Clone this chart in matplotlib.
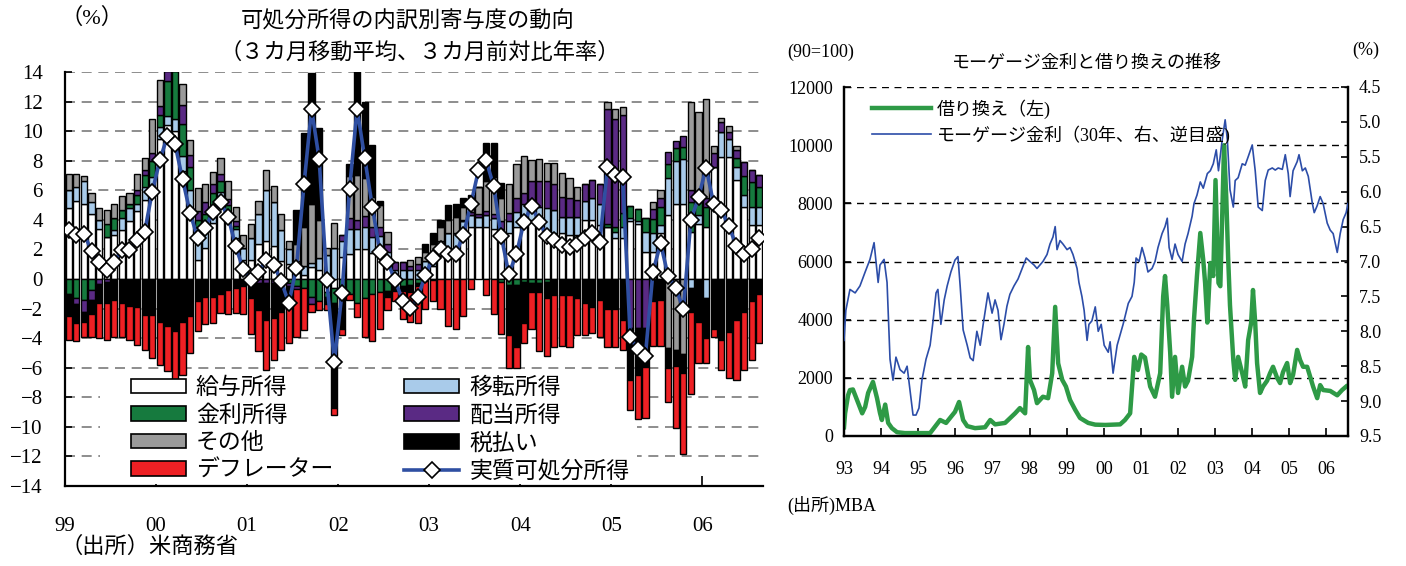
import matplotlib
matplotlib.use("Agg")
import matplotlib.pyplot as plt
import numpy as np
from matplotlib.patches import Patch, Rectangle
from matplotlib.lines import Line2D

plt.rcParams['font.family'] = ['Liberation Serif', 'Noto Sans CJK JP']

# ---- 左: 可処分所得の内訳別寄与度 (1999年1月〜2006年8月, 月次) ----
wage = [4.8, 5.3, 5.1, 4.4, 3.4, 2.85, 3.0, 3.3, 3.9, 4.6, 5.35, 6.0,
        9.5, 10.4, 10.0, 7.3, 4.5, 1.3, 2.1, 3.8, 5.1, 4.0, 2.8, 1.3,
        1.3, 2.4, 2.6, 2.2, 1.2, 1.0, 0.4, 0.3, 0.8, 0.6, -0.9, -0.6,
        1.5, 1.7, 2.0, 2.0, 1.75, 1.6, 0.9, 0.0, 0.0, 0.0, 0.0, 0.6,
        0.85, 1.7, 2.1, 1.8, 3.2, 3.5, 3.5, 3.5, 3.4, 2.8, 3.1, 3.5,
        3.9, 4.0, 3.75, 3.1, 3.1, 3.1, 3.0, 3.0, 4.0, 4.0, 3.65, 3.5,
        2.75, 2.75, 3.9, 3.7, 1.85, 1.85, 3.1, 4.3, 5.1, 5.1, 3.2, 3.7,
        3.5, 7.6, 8.25, 8.25, 6.7, 4.9, 3.65, 3.65]
transfer = [1.2, 0.95, 1.5, 0.8, 0.6, 0.0, 0.3, 0.8, 0.9, 0.5, 0.85, 0.9,
            0.8, 0.6, 0.8, 1.0, 1.5, 2.2, 1.8, 0.8, 0.8, 0.5, 0.6, 0.8,
            1.5, 2.0, 3.4, 3.0, 2.1, 1.0, 0.8, 0.6, 0.3, 0.8, 1.6, 2.1,
            1.1, 1.7, 1.35, 1.55, 1.1, 1.3, 0.9, 0.6, 0.6, 0.6, 0.6, 0.6,
            0.65, 0.9, 1.0, 1.3, 0.7, 0.8, 0.7, 0.8, 0.7, 0.6, 0.8, 1.0,
            1.2, 1.35, 1.1, 1.7, 1.6, 1.1, 1.2, 1.2, 1.25, 1.45, 1.45, 0.0,
            0.45, 0.8, 0.2, 0.25, 1.35, 1.25, 0.55, 2.5, 2.9, 3.0, -0.6, 0.6,
            -1.3, 0.0, 1.7, 1.25, 0.9, 0.8, 1.2, 1.2]
interest = [-1.0, -1.3, -1.4, -0.75, 0.0, 0.85, 0.8, 0.55, 0.3, 0.6, 0.85, 1.1,
            0.8, 2.4, 3.3, 2.2, 1.6, 0.5, 0.5, 1.2, 0.7, 0.5, 0.2, 0.0,
            0.0, 0.0, 0.0, 0.0, 0.0, -0.3, -0.5, -0.6, -1.2, -1.5, -0.3, -1.0,
            -1.0, -1.0, -1.6, -1.3, -1.0, -0.9, -0.8, -0.5, -0.5, -0.4, -0.3, -0.15,
            -0.1, 0.0, 0.0, 0.0, 0.0, 0.0, 0.0, 0.0, 0.0, -0.2, -0.4, -0.4,
            -0.2, -0.3, -0.3, -0.2, 0.0, 0.0, 0.0, 0.0, 0.0, 0.0, 0.0, 0.25,
            0.3, 0.9, 0.85, 0.8, 0.95, 0.95, 1.25, 1.0, 0.85, 0.85, 2.0, 1.0,
            1.4, 0.0, 0.0, 0.0, 0.55, 1.25, 1.7, 1.35]
dividend = [0.0, -0.4, -0.8, -0.65, -0.35, -0.2, 0.0, 0.0, 0.0, 0.3, 0.35, 0.5,
            0.6, 0.7, 0.0, 1.3, 0.8, 0.6, 0.8, 0.6, 0.5, 0.4, 0.3, 0.0,
            -0.3, -0.3, -0.3, -0.3, -0.2, -0.2, -0.2, 0.0, -0.5, 0.0, 0.0, 0.0,
            0.4, 0.7, 0.65, 0.7, 0.7, 0.6, 0.6, 0.55, 0.55, 0.3, 0.4, 0.0,
            0.0, 0.0, 0.0, 0.0, 0.1, 0.2, 0.2, 0.3, 0.3, 0.5, 0.55, 1.0,
            0.7, 1.25, 1.8, 1.8, 1.7, 1.35, 1.25, 1.15, 1.2, 1.25, 1.35, 7.75,
            7.3, 6.65, -3.33, -3.3, -3.33, 0.7, 0.55, 0.8, 0.5, 0.7, 0.8, 0.5,
            0.6, 0.9, 0.65, 0.45, 0.55, 0.95, 0.8, 0.85]
other = [1.1, 0.85, 0.35, 0.65, 0.8, 0.95, 0.95, 0.95, 0.75, 1.1, 0.8, 2.3,
         1.75, 0.0, 0.0, 1.4, 1.0, 1.55, 1.25, 0.85, 1.1, 1.2, 1.0, 0.9,
         0.95, 0.9, 1.35, 1.1, 1.1, 0.6, 1.2, 2.6, 4.0, 2.6, 0.5, 1.7,
         0.0, 2.9, 3.05, 2.55, 2.0, 1.5, 0.8, 0.0, 0.0, 0.4, 0.5, 0.6,
         0.9, 0.9, 0.9, 1.1, 0.9, 0.6, 1.8, 2.0, 2.5, 1.6, 2.0, 2.3,
         2.5, 1.45, 1.45, 1.25, 1.45, 1.6, 1.35, 0.9, 0.0, 0.0, 0.0, 0.45,
         0.7, 0.55, 0.0, 0.0, 0.0, 0.45, 0.55, -4.7, -4.8, -5.1, 6.0, 5.5,
         6.7, 0.5, 0.3, 0.4, 0.3, 0.0, 0.0, 0.0]
tax = [-1.5, -1.3, -0.7, -1.0, -1.25, -1.4, -1.45, -1.65, -1.85, -1.9, -2.45, -2.45,
       -2.9, -3.2, -3.5, -2.9, -2.5, -1.5, -1.25, -1.2, -1.0, -0.75, -0.6, -0.5,
       -1.0, -1.8, -2.5, -2.35, -2.05, -0.9, 2.26, 6.35, 8.85, 6.2, -0.5, -7.1,
       -2.4, 0.8, 7.0, 5.2, 3.5, 0.3, -0.4, -0.3, -0.3, -0.45, -0.2, 0.6,
       0.7, 0.5, 1.0, 0.9, 0.55, 0.6, 0.0, 2.6, 2.3, 1.0, -3.4, -4.2,
       -2.8, -0.6, -0.6, -1.1, -1.1, -1.1, -1.1, -1.3, -1.65, -1.87, -1.4, -2.0,
       -2.0, -2.8, -3.5, -3.2, -2.6, -1.5, -1.4, -1.35, -1.1, -1.25, -1.6, -2.9,
       -2.7, -3.4, -4.1, -3.6, -2.8, -2.2, -1.5, -1.0]
deflator = [-1.6, -1.2, -1.05, -1.5, -2.4, -2.5, -2.5, -2.25, -2.25, -2.55, -2.35, -2.9,
            -2.9, -3.05, -3.55, -3.6, -2.5, -2.0, -1.8, -1.75, -1.3, -1.6, -1.7, -1.9,
            -2.4, -2.8, -3.35, -2.85, -2.55, -2.95, -3.2, -2.85, -0.55, -0.6, -0.4, -0.5,
            -0.4, -0.45, -1.0, -2.6, -3.2, -2.5, -0.9, -0.7, -1.9, -2.05, -2.5, -1.9,
            -1.4, -2.0, -3.2, -3.4, -2.5, -0.7, 0.0, -1.1, -2.4, -3.5, -2.2, -1.4,
            -1.35, -2.5, -3.95, -3.9, -3.5, -3.45, -3.5, -2.5, -2.15, -1.8, -2.5, -2.6,
            -2.6, -2.0, -2.0, -3.0, -3.5, -3.0, -3.15, -2.25, -4.2, -5.5, -5.6, -2.8,
            -1.7, -0.5, -2.05, -3.1, -4.0, -3.95, -4.0, -3.35]
real_dpi = [3.3, 2.95, 3.06, 1.9, 1.17, 0.6, 1.17, 1.96, 1.96, 2.63, 3.2, 5.9,
            8.04, 9.66, 9.12, 6.74, 4.45, 2.75, 3.47, 4.55, 5.2, 4.2, 2.2, 0.65,
            -0.07, 0.5, 1.28, 0.95, -0.14, -1.64, 0.77, 6.4, 11.5, 8.1, -0.07, -5.6,
            -0.97, 6.06, 11.5, 8.2, 4.9, 1.85, 1.17, -0.07, -1.46, -1.98, -1.24, 0.27,
            1.44, 2.0, 1.69, 1.69, 2.97, 5.07, 7.36, 8.04, 6.28, 2.9, 0.34, 1.69,
            3.87, 4.93, 3.87, 2.9, 2.63, 2.3, 2.18, 2.34, 2.8, 3.13, 2.52, 7.55,
            7.03, 6.87, -3.94, -4.75, -5.18, 0.5, 2.41, 0.2, -0.59, -2.05, 3.99, 5.52,
            7.52, 5.07, 4.66, 3.58, 2.23, 1.69, 2.0, 2.8]
year_labels = ['99', '00', '01', '02', '03', '04', '05', '06']

# ---- 右: モーゲージ金利と借り換え指数 (1993〜2006) ----
rate_t = [1993.00, 1993.05, 1993.16, 1993.30, 1993.43, 1993.57, 1993.70, 1993.81, 1993.92, 1993.97,
          1994.08, 1994.16, 1994.24, 1994.32, 1994.40, 1994.51, 1994.62, 1994.70, 1994.78, 1994.86,
          1994.94, 1995.02, 1995.10, 1995.21, 1995.32, 1995.40, 1995.48, 1995.53, 1995.61, 1995.70,
          1995.78, 1995.88, 1995.99, 1996.07, 1996.13, 1996.21, 1996.32, 1996.40, 1996.48, 1996.58,
          1996.67, 1996.75, 1996.88, 1996.99, 1997.07, 1997.15, 1997.23, 1997.31, 1997.39, 1997.47,
          1997.58, 1997.69, 1997.80, 1997.91, 1998.01, 1998.12, 1998.20, 1998.28, 1998.36, 1998.47,
          1998.55, 1998.63, 1998.69, 1998.74, 1998.82, 1998.90, 1999.01, 1999.09, 1999.17, 1999.28,
          1999.33, 1999.41, 1999.47, 1999.55, 1999.60, 1999.68, 1999.77, 1999.85, 1999.93, 2000.01,
          2000.12, 2000.17, 2000.25, 2000.36, 2000.44, 2000.52, 2000.66, 2000.76, 2000.82, 2000.87,
          2000.95, 2001.03, 2001.11, 2001.19, 2001.30, 2001.38, 2001.46, 2001.57, 2001.65, 2001.71,
          2001.76, 2001.84, 2001.92, 2002.00, 2002.11, 2002.19, 2002.27, 2002.38, 2002.43, 2002.51,
          2002.60, 2002.68, 2002.79, 2002.87, 2002.95, 2003.03, 2003.09, 2003.19, 2003.27, 2003.33,
          2003.40, 2003.49, 2003.54, 2003.62, 2003.73, 2003.81, 2003.89, 2004.00, 2004.08, 2004.16,
          2004.27, 2004.35, 2004.43, 2004.54, 2004.62, 2004.70, 2004.81, 2004.89, 2004.97, 2005.02,
          2005.10, 2005.21, 2005.26, 2005.35, 2005.43, 2005.51, 2005.62, 2005.67, 2005.75, 2005.83,
          2005.91, 2006.02, 2006.10, 2006.18, 2006.29, 2006.37, 2006.45, 2006.53, 2006.58]
rate = [8.13, 7.7, 7.4, 7.45, 7.35, 7.15, 6.97, 6.73, 7.3, 7.05,
        6.97, 7.3, 8.4, 8.7, 8.37, 8.55, 8.6, 8.5, 8.85, 9.2,
        9.2, 9.1, 8.7, 8.4, 8.2, 7.85, 7.45, 7.4, 7.9, 7.55,
        7.35, 7.15, 6.98, 6.93, 7.35, 7.98, 8.2, 8.38, 8.42, 8.0,
        8.2, 7.9, 7.45, 7.74, 7.55, 7.7, 8.12, 7.9, 7.64, 7.47,
        7.35, 7.25, 7.1, 6.95, 7.0, 7.05, 7.1, 7.05, 7.0, 6.9,
        6.75, 6.65, 6.5, 6.83, 6.7, 6.75, 6.83, 6.8, 6.9, 7.1,
        7.3, 7.5, 7.7, 8.13, 7.9, 7.85, 7.65, 8.0, 7.9, 8.2,
        8.3, 8.15, 8.6, 8.2, 8.05, 7.9, 7.6, 7.5, 7.3, 6.95,
        7.0, 6.8, 6.95, 7.15, 7.1, 7.0, 6.8, 6.6, 6.5, 6.38,
        6.8, 6.97, 6.75, 6.9, 7.0, 6.75, 6.6, 6.35, 6.17, 6.05,
        5.86, 5.95, 5.74, 5.7, 5.6, 5.4, 5.7, 5.26, 4.97, 5.26,
        5.97, 6.22, 5.84, 5.8, 5.6, 5.62, 5.5, 5.33, 5.7, 6.22,
        6.27, 5.84, 5.69, 5.66, 5.69, 5.66, 5.68, 5.47, 5.74, 6.07,
        5.7, 5.57, 5.47, 5.7, 5.66, 5.78, 6.17, 6.3, 6.2, 6.07,
        6.17, 6.45, 6.55, 6.6, 6.87, 6.6, 6.4, 6.3, 6.17]
refi_t = [1993.00, 1993.03, 1993.11, 1993.16, 1993.24, 1993.35, 1993.49, 1993.57, 1993.65, 1993.78,
          1993.89, 1993.97, 1994.02, 1994.11, 1994.19, 1994.29, 1994.43, 1994.64, 1995.32, 1995.59,
          1995.75, 1995.99, 1996.10, 1996.21, 1996.32, 1996.53, 1996.80, 1996.94, 1997.07, 1997.34,
          1997.61, 1997.74, 1997.88, 1997.96, 1998.01, 1998.12, 1998.20, 1998.36, 1998.50, 1998.61,
          1998.69, 1998.77, 1998.88, 1998.98, 1999.09, 1999.23, 1999.36, 1999.58, 1999.77, 2000.04,
          2000.44, 2000.57, 2000.71, 2000.82, 2000.92, 2001.01, 2001.11, 2001.25, 2001.38, 2001.52,
          2001.60, 2001.65, 2001.71, 2001.79, 2001.84, 2001.92, 2002.00, 2002.11, 2002.19, 2002.27,
          2002.38, 2002.43, 2002.51, 2002.60, 2002.68, 2002.73, 2002.79, 2002.87, 2002.95, 2003.01,
          2003.09, 2003.14, 2003.19, 2003.24, 2003.30, 2003.35, 2003.40, 2003.49, 2003.54, 2003.62,
          2003.73, 2003.81, 2003.89, 2003.97, 2004.02, 2004.08, 2004.13, 2004.21, 2004.29, 2004.40,
          2004.48, 2004.56, 2004.67, 2004.75, 2004.83, 2004.94, 2005.02, 2005.10, 2005.21, 2005.29,
          2005.37, 2005.48, 2005.56, 2005.64, 2005.75, 2005.83, 2005.91, 2006.10, 2006.29, 2006.42,
          2006.53]
refi = [300, 780, 1400, 1580, 1600, 1240, 780, 1000, 1480, 1860,
        1300, 790, 550, 1080, 450, 270, 130, 100, 100, 550,
        450, 830, 1170, 550, 340, 270, 300, 550, 400, 450,
        780, 960, 780, 3060, 1930, 1580, 1130, 1350, 1300, 2160,
        4440, 2500, 1930, 1700, 1240, 900, 620, 450, 390, 380,
        400, 550, 780, 2720, 2270, 2800, 2700, 1700, 1350, 2160,
        4800, 5500, 4500, 2850, 1350, 2720, 1480, 2380, 1700, 1900,
        2720, 4000, 5500, 6980, 6050, 5260, 3900, 5950, 5500, 8800,
        5260, 5150, 7530, 10000, 8200, 6150, 4500, 2610, 1930, 2720,
        2160, 1700, 3300, 3890, 5020, 3890, 2510, 1480, 1700, 1900,
        2160, 2380, 2000, 1820, 2200, 2510, 1820, 2100, 2960, 2610,
        2380, 2380, 2040, 1700, 1300, 1750, 1580, 1550, 1400, 1580,
        1700]
refi_years = list(range(1993, 2007))

c_wage, c_trans, c_int = '#ffffff', '#a9cbea', '#167a3e'
c_div, c_oth, c_tax, c_def = '#5a2a84', '#9a9a9a', '#000000', '#ee2024'
c_line = '#2f4fa2'

fig = plt.figure(figsize=(14.06, 5.66), dpi=100)

# ================= 左パネル =================
ax = fig.add_axes([65 / 1406, 1 - 486 / 566, 698 / 1406, 414 / 566])
n = len(wage)
x = np.arange(n) + 0.5
comps = [(wage, c_wage, '給与所得'), (transfer, c_trans, '移転所得'),
         (interest, c_int, '金利所得'), (dividend, c_div, '配当所得'),
         (other, c_oth, 'その他'), (tax, c_tax, '税払い'),
         (deflator, c_def, 'デフレーター')]
pos_base = np.zeros(n)
neg_base = np.zeros(n)
for vals, col, lab in comps:
    v = np.array(vals, dtype=float)
    bottom = np.where(v >= 0, pos_base, neg_base)
    ax.bar(x, v, 0.82, bottom=bottom, color=col, edgecolor='black',
           linewidth=1.0, zorder=2)
    pos_base = pos_base + np.clip(v, 0, None)
    neg_base = neg_base + np.clip(v, None, 0)

ax.plot(x, real_dpi, color=c_line, lw=2.6, zorder=3, marker='D', ms=8,
        mfc='white', mec='black', mew=1.2)

ax.set_xlim(0, n)
ax.set_ylim(-14, 14)
ax.set_yticks(range(-14, 15, 2))
ax.set_xticks(range(0, n, 12))
ax.set_xticklabels(year_labels)
ax.tick_params(axis='y', direction='in', length=5, width=1.2, labelsize=15, pad=16)
ax.tick_params(axis='x', direction='in', length=7, width=1.2, labelsize=15, pad=22)
for s in ['top', 'right']:
    ax.spines[s].set_visible(False)
for s in ['left', 'bottom']:
    ax.spines[s].set_linewidth(1.6)
ax.set_axisbelow(True)
ax.yaxis.grid(True, color='#7a7a7a', lw=1.2, ls=(0, (6, 4)))
ax.add_patch(Rectangle((0.05, 0.005), 0.77, 0.265, transform=ax.transAxes,
                       facecolor='white', edgecolor='none', zorder=0.8))

handles = [Patch(facecolor=c, edgecolor='black', lw=1.2) for _, c, _ in comps]
labels = [lab for _, _, lab in comps]
line_h = Line2D([], [], color=c_line, lw=2.6, marker='D', ms=8,
                mfc='white', mec='black', mew=1.2)
order = [0, 2, 4, 6, 1, 3, 5]
leg_h = [handles[i] for i in order] + [line_h]
leg_l = [labels[i] for i in order] + ['実質可処分所得']
ax.legend(leg_h, leg_l, ncol=2, loc='upper left', bbox_to_anchor=(0.094, 0.262),
          frameon=False, fontsize=16.5, handlelength=2.4, handleheight=0.6,
          handletextpad=0.45, labelspacing=0.28, columnspacing=3.1,
          borderpad=0, borderaxespad=0)

fig.text(60 / 1406, 1 - 18 / 566, '（%）', fontsize=16, ha='left', va='center')
fig.text(408 / 1406, 1 - 22 / 566, '可処分所得の内訳別寄与度の動向', fontsize=16,
         ha='center', va='center')
fig.text(420 / 1406, 1 - 53 / 566, '（３カ月移動平均、３カ月前対比年率）',
         fontsize=16, ha='center', va='center')
fig.text(60 / 1406, 1 - 547 / 566, '（出所）米商務省', fontsize=16,
         ha='left', va='center')

# ================= 右パネル =================
axr = fig.add_axes([844 / 1406, 1 - 436 / 566, 504 / 1406, 349 / 566])
ax2 = axr.twinx()
axr.plot(refi_t, refi, color='#2e9a46', lw=3.2, zorder=3)
ax2.plot(rate_t, rate, color='#2c4da8', lw=1.2, zorder=3)

axr.set_xlim(1993, 2006.58)
axr.set_ylim(0, 12000)
ax2.set_ylim(9.5, 4.5)
axr.set_yticks(range(0, 12001, 2000))
ax2.set_yticks(np.arange(4.5, 9.51, 0.5))
ax2.set_yticklabels([f'{v:.1f}' for v in np.arange(4.5, 9.51, 0.5)])
axr.set_xticks(refi_years)
axr.set_xticklabels([f'{y % 100:02d}' for y in refi_years])
axr.tick_params(axis='y', direction='in', length=5, width=1.2, labelsize=13, pad=8)
axr.tick_params(axis='x', direction='in', length=6, width=1.2, labelsize=13, pad=18)
ax2.tick_params(axis='y', direction='in', length=5, width=1.2, labelsize=13, pad=8)
for a in (axr, ax2):
    a.spines['top'].set_visible(False)
    for s in ['left', 'right', 'bottom']:
        a.spines[s].set_linewidth(1.6)
axr.set_axisbelow(True)
axr.yaxis.grid(True, color='black', lw=1.0, ls=(0, (5, 4)))
axr.add_patch(Rectangle((0.0, 0.82), 0.82, 0.16, transform=axr.transAxes,
                        facecolor='white', edgecolor='none', zorder=0.8))

rh = [Line2D([], [], color='#2e9a46', lw=3.2), Line2D([], [], color='#2c4da8', lw=1.2)]
leg2 = ax2.legend(rh, ['借り換え（左)', 'モーゲージ金利（30年、右、逆目盛)'],
                  loc='upper left', bbox_to_anchor=(0.055, 0.965), frameon=False,
                  fontsize=13, handlelength=3.3, handletextpad=0.3,
                  labelspacing=0.35, borderpad=0, borderaxespad=0)

fig.text(787 / 1406, 1 - 52 / 566, '(90=100)', fontsize=13, ha='left', va='center')
fig.text(1087 / 1406, 1 - 63 / 566, 'モーゲージ金利と借り換えの推移', fontsize=13,
         ha='center', va='center')
fig.text(1352 / 1406, 1 - 50 / 566, '(%)', fontsize=13, ha='left', va='center')
fig.text(787 / 1406, 1 - 505 / 566, '(出所)MBA', fontsize=13, ha='left', va='center')

fig.savefig('out.png', dpi=100)
